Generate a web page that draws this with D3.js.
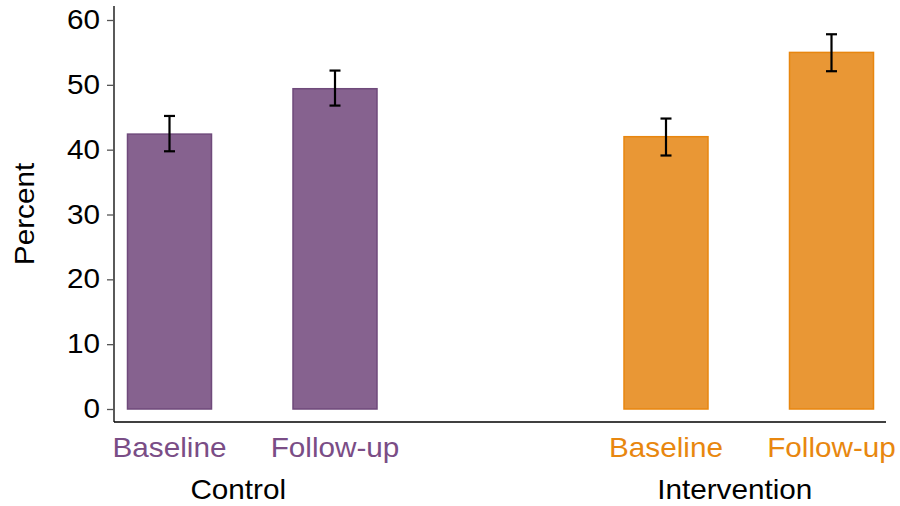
<!DOCTYPE html>
<html>
<head>
<meta charset="utf-8">
<script src="https://cdn.jsdelivr.net/npm/d3@7"></script>
<style>
  body { margin: 0; background: #fff; }
  text { font-family: "Liberation Sans", Arial, sans-serif; }
</style>
</head>
<body>
<svg id="chart"></svg>
<script>
const groups = ["Control", "Intervention"];
const timepoints = ["Baseline", "Follow-up"];
const values = [42.4, 49.4, 42.0, 55.0];
const lower = [39.75, 46.8, 39.1, 52.1];
const upper = [45.2, 52.2, 44.8, 57.8];
const yTicks = [0, 10, 20, 30, 40, 50, 60];
const groupColors = { Control: "#86628f", Intervention: "#e99735" };
const groupStroke = { Control: "#6f4a7b", Intervention: "#e8860f" };
const labelColors = { Control: "#7a4d86", Intervention: "#e8870f" };

const width = 900, height = 506;
const fs = 27, sx = 1.1; // the reference text is a bit wider than Arial
const svg = d3.select("#chart").attr("width", width).attr("height", height);

// slots: two bars per group with an empty slot between groups
const slots = ["Control|Baseline", "Control|Follow-up", "gap", "Intervention|Baseline", "Intervention|Follow-up"];
const data = [];
groups.forEach((g, gi) => timepoints.forEach((t, ti) => {
    const k = gi * 2 + ti;
    data.push({group: g, time: t, key: g + "|" + t, value: values[k], lo: lower[k], hi: upper[k]});
}));

const x = d3.scalePoint().domain(slots).range([169.5, 831.5]);
const barW = 84;
const y = d3.scaleLinear().domain([0, 60]).range([409, 20]);

// y axis
svg.append("line").attr("x1", 114).attr("x2", 114).attr("y1", 6).attr("y2", 422)
    .attr("stroke", "#000").attr("stroke-width", 1.3);
const yAxis = svg.append("g").attr("transform", "translate(114,0)")
    .call(d3.axisLeft(y).tickValues(yTicks).tickSize(7).tickPadding(7));
yAxis.select(".domain").remove();
yAxis.selectAll(".tick line").attr("stroke", "#555").attr("stroke-width", 1.3);
yAxis.selectAll(".tick text")
    .attr("x", null)
    .attr("transform", `translate(-14,0) scale(${sx},1)`)
    .attr("font-size", fs).attr("fill", "#000")
    .style("font-family", "Liberation Sans, Arial, sans-serif");

// x axis line
svg.append("line").attr("x1", 114).attr("x2", 886).attr("y1", 422).attr("y2", 422)
    .attr("stroke", "#000").attr("stroke-width", 1.3);

// bars
svg.selectAll(".bar").data(data).enter().append("rect")
    .attr("class", "bar")
    .attr("x", d => x(d.key) - barW / 2)
    .attr("y", d => y(d.value))
    .attr("width", barW)
    .attr("height", d => y(0) - y(d.value))
    .attr("fill", d => groupColors[d.group])
    .attr("stroke", d => groupStroke[d.group])
    .attr("stroke-width", 1.5);

// error bars
const eb = svg.selectAll(".err").data(data).enter().append("g")
    .attr("stroke", "#000").attr("stroke-width", 2.2);
eb.append("line").attr("x1", d => x(d.key)).attr("x2", d => x(d.key))
    .attr("y1", d => y(d.lo)).attr("y2", d => y(d.hi));
eb.append("line").attr("x1", d => x(d.key) - 5.5).attr("x2", d => x(d.key) + 5.5)
    .attr("y1", d => y(d.lo)).attr("y2", d => y(d.lo));
eb.append("line").attr("x1", d => x(d.key) - 5.5).attr("x2", d => x(d.key) + 5.5)
    .attr("y1", d => y(d.hi)).attr("y2", d => y(d.hi));

// timepoint labels
svg.selectAll(".tlabel").data(data).enter().append("text")
    .attr("transform", d => `translate(${x(d.key)},457) scale(${sx},1)`)
    .attr("text-anchor", "middle")
    .attr("font-size", fs)
    .attr("fill", d => labelColors[d.group])
    .text(d => d.time);

// group labels
svg.selectAll(".glabel").data(groups).enter().append("text")
    .attr("transform", g => `translate(${(x(g + "|Baseline") + x(g + "|Follow-up")) / 2 - 14},499) scale(${sx},1)`)
    .attr("text-anchor", "middle")
    .attr("font-size", fs)
    .attr("fill", "#000")
    .text(g => g);

// y label
svg.append("text")
    .attr("transform", `translate(34,214) rotate(-90) scale(${sx},1)`)
    .attr("text-anchor", "middle")
    .attr("font-size", fs)
    .attr("fill", "#000")
    .text("Percent");
</script>
</body>
</html>
